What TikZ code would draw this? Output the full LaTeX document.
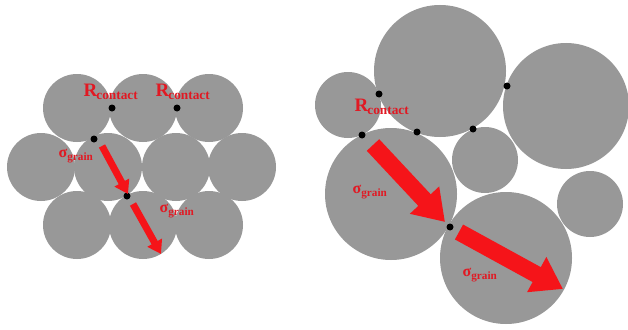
\documentclass[tikz,border=0pt]{standalone}
\usepackage{fontspec}
\setmainfont{Liberation Serif}
\usepackage{xcolor}
\usepackage{tikz}
\usetikzlibrary{arrows.meta}

\definecolor{graingray}{RGB}{152,152,152}
\definecolor{forcered}{RGB}{245,20,25}
\definecolor{labelred}{RGB}{225,25,35}

\newcommand{\Rcon}{R\textsubscript{\kern-1pt contact}}
\newcommand{\Sgr}{σ\textsubscript{grain}}

\begin{document}
\begin{tikzpicture}[
  x=1pt, y=-1pt,
  font=\bfseries,
  grain/.style={fill=graingray},
  contact/.style={circle, fill=black, inner sep=0pt, minimum size=7pt},
  rlabel/.style={text=labelred, font=\fontsize{19}{19}\selectfont\bfseries, inner sep=0pt},
  slabel/.style={text=labelred, font=\fontsize{16}{16}\selectfont\bfseries, inner sep=0pt},
  thinarr/.style={draw=forcered, line width=7pt, -{Triangle[width=16pt, length=13pt]}},
  fatarr/.style={draw=forcered, line width=17pt, -{Triangle[width=38pt, length=30pt]}},
]
\fill[white] (0,0) rectangle (628,329);
\useasboundingbox (0,0) rectangle (628,329);

% left packing, regular grains
\foreach \x in {77,143,209} {
  \fill[grain] (\x,108) circle (34);
  \fill[grain] (\x,225) circle (34);
}
\foreach \x in {41,108,176,242}
  \fill[grain] (\x,167) circle (34);

\node[contact] (lc1) at (112,108) {};
\node[contact] (lc2) at (177,108) {};
\node[contact] (lc3) at (94,139) {};
\node[contact] (lc4) at (127,196) {};

\coordinate (la1s) at (102,146);
\coordinate (la1e) at (128,194);
\coordinate (la2s) at (133,204);
\coordinate (la2e) at (161,254);
\draw[thinarr] (la1s) -- (la1e);
\draw[thinarr] (la2s) -- (la2e);

\node[rlabel] (lrc1) at (111,92) {\Rcon};
\node[rlabel] (lrc2) at (183,92) {\Rcon};
\node[slabel] (lsg1) at (76,156) {\Sgr};
\node[slabel] (lsg2) at (177,211) {\Sgr};

% right packing, mixed grain sizes
\fill[grain] (440,71) circle (66);
\fill[grain] (566,106) circle (63);
\fill[grain] (348,105) circle (33);
\fill[grain] (391,194) circle (66);
\fill[grain] (485,160) circle (33);
\fill[grain] (590,204) circle (33);
\fill[grain] (506,258) circle (66);

\node[contact] (rc1) at (379,94) {};
\node[contact] (rc2) at (507,86) {};
\node[contact] (rc3) at (362,135) {};
\node[contact] (rc4) at (417,132) {};
\node[contact] (rc5) at (473,129) {};
\node[contact] (rc6) at (450,227) {};

\coordinate (ra1s) at (373,145);
\coordinate (ra1e) at (445,222);
\coordinate (ra2s) at (459,232);
\coordinate (ra2e) at (563,289);
\draw[fatarr] (ra1s) -- (ra1e);
\draw[fatarr] (ra2s) -- (ra2e);

\node[rlabel] (rrc) at (382,107) {\Rcon};
\node[slabel] (rsg1) at (370,192) {\Sgr};
\node[slabel] (rsg2) at (480,275) {\Sgr};

\end{tikzpicture}
\end{document}
